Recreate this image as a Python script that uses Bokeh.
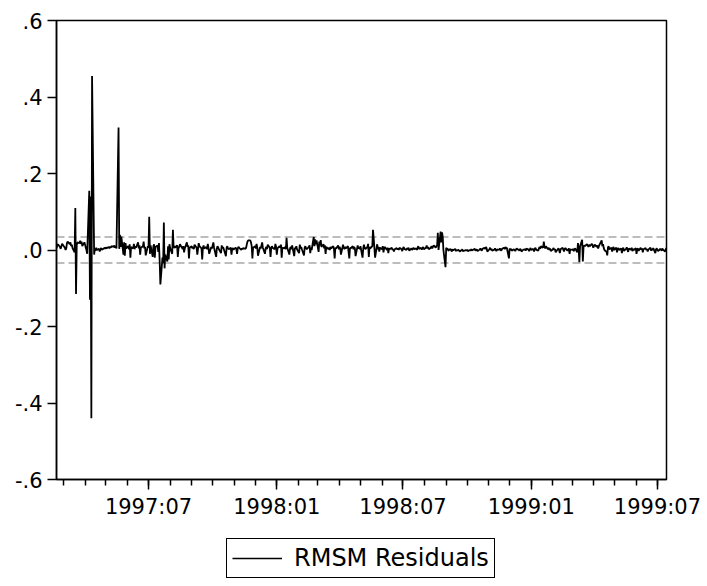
import pandas as pd
from bokeh.plotting import figure
from bokeh.layouts import column
from bokeh.models import FixedTicker, Span, Legend, LegendItem, Range1d
from bokeh.embed import file_html
from bokeh.resources import INLINE

# ---------------- data ----------------
start_date = "1997-02-19"
end_date = "1999-07-14"

# daily (business-day) residuals
resid_seg1 = [
    .005, .012, .015, .008, .003, .010, .016, .014, .006, .000,
    .004, .018, .022, .015, .020, .010, .014, .005, -.006, .110,
    -.115, .012, .020, .018, .024, .016, .022, .010, .020, .014,
    .006, .000, -.010, .155, -.130, .140, -.440, .455, -.012, .004,
    -.002, .006, .000, .003, -.004, .002, .005, .001, .004, .006,
    .003, .007, .005, .008, .004, .009, .006, .010, .008, .012,
    .006, .010, .004, .320, .003, .040, .008, .035, -.012, .020,
    -.015, .018, .004, .010, .002, .015, -.020, .008, .004, .016,
    .002, .010, .006, .020, .004, .012, -.012, .006, .010, .022,
    .004, .008, -.014, .010, .006, .087, -.010, .012, -.018, .010,
    .015, -.020, .008, .012, -.005, .018, -.030, -.090, -.020, -.035,
    .072, -.048, -.012, -.030, .010, -.025, .015, .005, -.010, .053,
]
resid_seg2 = [
    .005, .010, .006, .012, -.018, .004, .008, .015, .006, .002,
    .010, -.006, .004, .020, .008, .012, -.022, .006, .010, .004,
    .008, .002, .014, .006, -.012, .003, .018, .010, .004, -.025,
    .006, .012, .004, .008, .002, .016, .006, -.010, .008, .004,
    .012, .020, .006, -.018, .004, .010, .006, .002, -.008, .012,
    .004, .008, .002, -.016, .006, .010, .004, .002, .006, -.012,
    .003, .005, .001, .006, .002, -.010, .004, .008, .002, .000,
    .004, .002, .005, .003, .006, .015, .022, .025, .025, .020,
    .010, -.022, .006, .010, .004, .016, .006, -.015, .008, .004,
    .012, .020, .006, -.010, .004, .008, .002, .014, .006, -.018,
    .004, .010, .006, .002, .016, .008, -.012, .004, .010, .006,
    .014, -.020, .006, .004, .008, .002, .032, .006, -.012, .004,
    .008, .002, .012, -.016, .006, .004, .010, .002, -.008, .014,
    .004, .008, .002, -.014, .006, .010, .004, .002, .008, .012,
    -.008, .006, .000, .034, .010, .028, .015, .025, -.005, .022,
    .012, .026, .008, .015, .004, .012, -.010, .008, .002, .006,
    .000, .008, .004, .010, .002, -.022, .006, .004, .012, .002,
    .008, .004, -.012, .014, .006, .002, .008, .004, .010, -.006,
    -.022, .006, .004, .010, .002, .008, .004, -.016, .012, .004,
    .006, .002, .010, -.020, .004, .014, .006, .002, .008, .016,
    -.018, .008, .004, .010, .053, .030, .005, -.020, .015, .002,
]
resid_seg3 = [
    .008, -.004, .006, .002, .010, -.006, .004, .008, .000, .006,
    -.008, .004, .002, .006, .000, .003, -.004, .002, .005, .001,
    .004, .000, .006, .002, -.003, .004, .008, .003, .000, .005,
    .002, .006, -.002, .004, .000, .003, .006, .002, .004, .000,
    .005, .010, .003, .006, .001, .004, .008, .002, .006, .012,
    .004, .008, .002, .006, .010, .004, .008, .012, .006, .010,
    .012, .045, .000, .048, .020, .046, .035, .000, -.045, .006,
    .002, .004, -.002, .003, .000, -.004, .002, -.001, .003, -.003,
    .000, -.002, .001, -.004, .000, -.002, .002, -.003, -.001, .000,
    -.002, .001, -.003, .000, -.002, .002, -.001, .000, .003, -.002,
    .000, .002, -.003, .001, .004, .000, -.002, .003, .006, .002,
    .008, .004, -.004, .002, .006, .000, .003, -.002, .001, .004,
    .000, -.003, .002, .000, .004, .001, -.002, .003, .006, .002,
    .008, .004, .006, -.022, .004, .000, .003, -.002, .002, .000,
    -.003, .001, .004, .000, -.002, .003, .001, -.004, .002, .000,
    .003, -.002, .004, .001, -.003, .002, .005, .000, .003, -.004,
    .002, .006, .001, -.002, .004, .008, .003, .010, .006, .022,
]
resid_seg4 = [
    .008, .004, .010, .002, .006, .000, .004, -.003, .002, .005,
    .000, .003, -.006, .002, .004, .000, -.008, .002, .006, .001,
    -.004, .003, .005, -.002, .001, .004, -.010, .002, .000, .003,
    -.003, .002, .004, -.006, .018, .000, -.032, .010, .027, -.030,
    .008, .012, .010, .015, .012, .008, .014, .010, .016, .012,
    .006, .010, .014, .008, .012, .004, .010, .014, .025, .010,
    .015, .005, .000, -.005, -.014, .006, .010, .002, .006, -.004,
    .004, .008, .000, .006, -.006, .002, .005, .000, .004, -.008,
    .002, .006, -.002, .003, .007, .000, -.005, .004, .001, .006,
    -.003, .003, .000, .005, -.010, .002, .004, -.002, .006, .001,
    .004, -.006, .002, .005, .000, .003, -.004, .001, .006, -.002,
    .003, .000, .005, -.008, .002, .004, .000, -.003, .003, .001,
    -.002, .004, .001, -.004, .002, .005,
]

se_band = [-0.034, 0.034]

y_ticks = [-0.6, -0.4, -0.2, 0.0, 0.2, 0.4, 0.6]
y_tick_labels = ["-.6", "-.4", "-.2", ".0", ".2", ".4", ".6"]
x_tick_dates = ["1997-07-01", "1998-01-01", "1998-07-01", "1999-01-01", "1999-07-01"]
x_tick_labels = ["1997:07", "1998:01", "1998:07", "1999:01", "1999:07"]
minor_start, minor_end = "1997-03-01", "1999-07-01"
series_name = "RMSM Residuals"

# ---------------- build ----------------
resid = resid_seg1 + resid_seg2 + resid_seg3 + resid_seg4
dates = pd.bdate_range(start_date, periods=len(resid))


def ms(d):
    return pd.Timestamp(d).value / 1e6


FONT = "DejaVu Sans"
LINE_W = 1.8

p = figure(
    frame_width=610, frame_height=459,
    min_border_left=56, min_border_right=41, min_border_top=20, min_border_bottom=51,
    x_range=Range1d(ms(start_date), ms(end_date)),
    y_range=Range1d(y_ticks[0], y_ticks[-1]),
    output_backend="svg", toolbar_location=None,
    background_fill_color="white", border_fill_color="white",
)
p.xgrid.visible = False
p.ygrid.visible = False
p.outline_line_color = "black"
p.outline_line_width = 1.5
p.outline_line_alpha = 1

for s in se_band:
    p.add_layout(Span(location=s, dimension="width", line_color="#a8a8a8",
                      line_width=1.4, line_dash="8 4", level="underlay"))

r = p.line(dates, resid, line_color="black", line_width=LINE_W)

# x axis
xa = p.xaxis[0]
xa.ticker = FixedTicker(
    ticks=[ms(d) for d in x_tick_dates],
    minor_ticks=[ms(d) for d in pd.date_range(minor_start, minor_end, freq="MS")],
)
xa.major_label_overrides = {ms(d): lab for d, lab in zip(x_tick_dates, x_tick_labels)}
xa.major_tick_out = 10
xa.major_tick_in = 0
xa.minor_tick_out = 6
xa.minor_tick_in = 0
xa.axis_line_width = 1.5
xa.major_tick_line_width = 1.5
xa.minor_tick_line_width = 1.5
xa.major_label_standoff = 5
xa.major_label_text_font = FONT
xa.major_label_text_font_size = "21px"
xa.major_label_text_color = "black"

# y axis
ya = p.yaxis[0]
ya.ticker = FixedTicker(ticks=y_ticks)
ya.major_label_overrides = {t: lab for t, lab in zip(y_ticks, y_tick_labels)}
ya.major_tick_out = 9
ya.major_tick_in = 0
ya.minor_tick_out = 0
ya.minor_tick_in = 0
ya.axis_line_width = 1.5
ya.major_tick_line_width = 1.5
ya.major_label_standoff = 5
ya.major_label_text_font = FONT
ya.major_label_text_font_size = "21px"
ya.major_label_text_color = "black"

# legend strip below the chart (its frame is aligned with the chart's frame)
leg = figure(
    width=707, height=56, min_border=0,
    x_range=Range1d(0, 1), y_range=Range1d(0, 1),
    x_axis_type=None, y_axis_type=None,
    output_backend="svg", toolbar_location=None,
    background_fill_color="white", border_fill_color="white",
)
leg.outline_line_color = None
leg.xgrid.visible = False
leg.ygrid.visible = False
# legend key renderer: its points lie outside the visible range
r_leg = leg.line([5, 6], [5, 6], line_color="black", line_width=1.3)

legend = Legend(
    items=[LegendItem(label=series_name, renderers=[r_leg])],
    location=(170, 8),
    orientation="horizontal",
    border_line_color="black", border_line_width=1.2, border_line_alpha=1,
    background_fill_color="white", background_fill_alpha=1,
    padding=5, margin=0, spacing=0,
    glyph_width=50, glyph_height=20, label_height=20, label_standoff=12,
    label_text_font=FONT, label_text_font_size="24px", label_text_color="black",
)
leg.add_layout(legend)

layout = column(p, leg, spacing=0)
open("out.html", "w").write(file_html(layout, INLINE))
